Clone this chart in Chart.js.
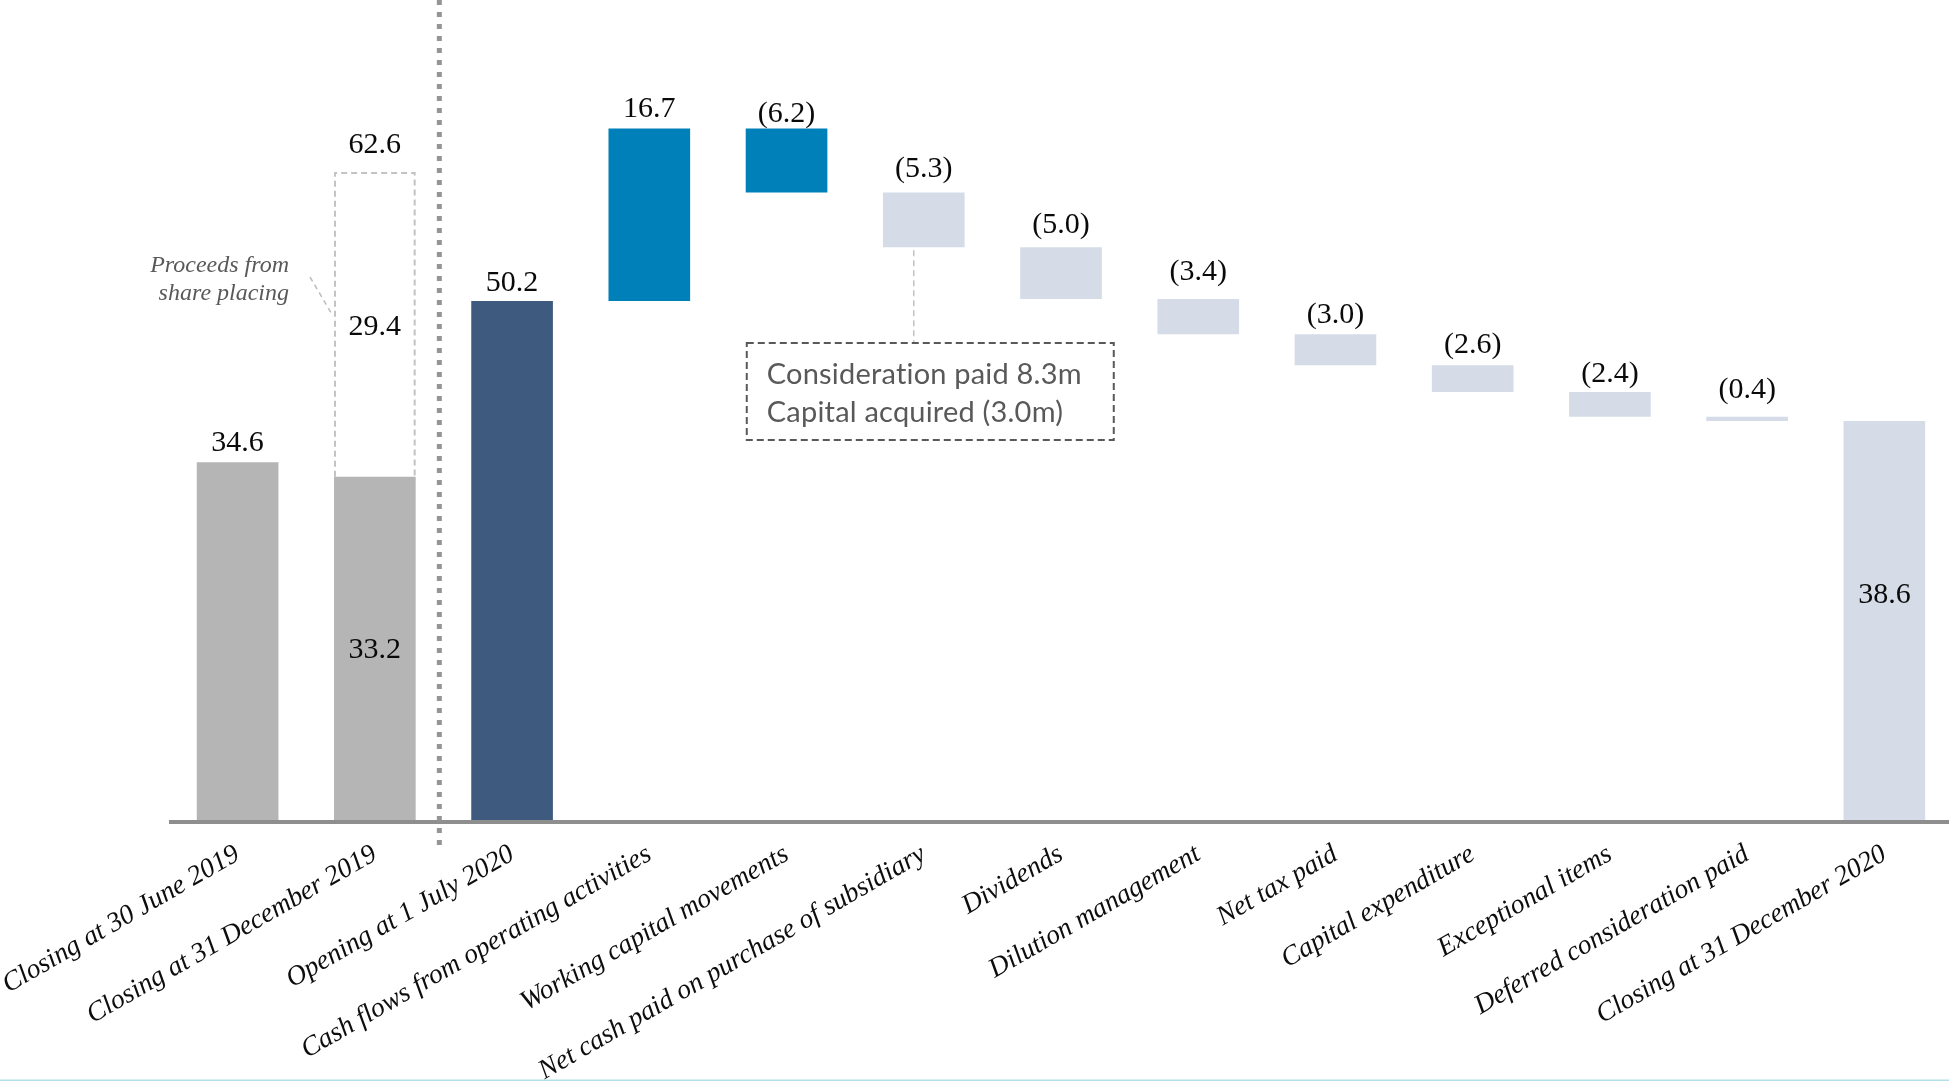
<!DOCTYPE html>
<html>
<head>
<meta charset="utf-8">
<script src="https://cdn.jsdelivr.net/npm/chart.js@4/dist/chart.umd.min.js"></script>
<style>
  html, body { margin: 0; padding: 0; background: #ffffff; overflow: hidden; width: 1949px; height: 1081px; }
  canvas { display: block; }
</style>
</head>
<body>
<canvas id="bridge" width="1953" height="1081"></canvas>
<script>
// Cash bridge, £m
const categories = [
  'Closing at 30 June 2019',
  'Closing at 31 December 2019',
  'Opening at 1 July 2020',
  'Cash flows from operating activities',
  'Working capital movements',
  'Net cash paid on purchase of subsidiary',
  'Dividends',
  'Dilution management',
  'Net tax paid',
  'Capital expenditure',
  'Exceptional items',
  'Deferred consideration paid',
  'Closing at 31 December 2020'
];

// Balances shown as full bars from zero
const balances = [34.6, 33.2, 50.2, null, null, null, null, null, null, null, null, null, 38.6];

// Movements that float on the running balance
const movements = [null, null, null, 16.7, -6.2, -5.3, -5.0, -3.4, -3.0, -2.6, -2.4, -0.4, null];

// Share placing proceeds stacked on the December 2019 balance
const placingProceeds = [null, 29.4, null, null, null, null, null, null, null, null, null, null, null];

// Bar fills
const barColors = ['#b5b5b5', '#b5b5b5', '#3e5a7f', '#0080b8', '#0080b8',
  '#d5dce8', '#d5dce8', '#d5dce8', '#d5dce8', '#d5dce8', '#d5dce8', '#d5dce8', '#d5dce8'];

// Gap (px) between the top of each mark and its value label
const labelGap = [11, 20, 10, 11, 6, 16, 14, 19, 11, 12, 10, 19, null];

// Floating ranges for the waterfall
let running = 0;
const ranges = categories.map((_, i) => {
  if (balances[i] !== null) { running = balances[i]; return [0, balances[i]]; }
  const start = running;
  running = Math.round((running + movements[i]) * 10) / 10;
  return [start, running];
});
const placingRanges = placingProceeds.map((p, i) =>
  p === null ? null : [balances[i], Math.round((balances[i] + p) * 10) / 10]);

const fmt = v => v < 0 ? '(' + Math.abs(v).toFixed(1) + ')' : v.toFixed(1);

const SERIF = '"Liberation Serif", "Times New Roman", serif';

const overlay = {
  id: 'overlay',
  afterDatasetsDraw(chart) {
    const { ctx, chartArea, scales: { x, y } } = chart;
    const bars = chart.getDatasetMeta(0).data;
    const placing = chart.getDatasetMeta(1).data;
    const W = chart.width;
    ctx.save();

    // base axis line
    const y0 = y.getPixelForValue(0);
    ctx.strokeStyle = '#8e8e8e';
    ctx.lineWidth = 4;
    ctx.setLineDash([]);
    ctx.beginPath();
    ctx.moveTo(chartArea.left, y0 + 2);
    ctx.lineTo(W, y0 + 2);
    ctx.stroke();

    // dashed outline of the share placing segment
    placing.forEach((el, i) => {
      if (!el || placingRanges[i] === null) return;
      const { x: cx, y: top, base, width } = el.getProps(['x', 'y', 'base', 'width'], true);
      const l = cx - width / 2 + 1, r = cx + width / 2 - 1;
      ctx.strokeStyle = '#c3c3c3';
      ctx.lineWidth = 2;
      ctx.setLineDash([6, 4]);
      ctx.beginPath();
      ctx.moveTo(l, base);
      ctx.lineTo(l, top);
      ctx.lineTo(r, top);
      ctx.lineTo(r, base);
      ctx.stroke();
    });

    // dotted divider between the half-year and the full-year bridge
    const dx = x.getPixelForValue(1.47);
    ctx.strokeStyle = '#959595';
    ctx.lineWidth = 5;
    ctx.setLineDash([5, 7]);
    ctx.beginPath();
    ctx.moveTo(dx, 0);
    ctx.lineTo(dx, y0 + 31);
    ctx.stroke();

    // value labels
    ctx.setLineDash([]);
    ctx.fillStyle = '#0a0a0a';
    ctx.font = '30px ' + SERIF;
    ctx.textAlign = 'center';
    bars.forEach((el, i) => {
      const { x: cx, y: yy, base } = el.getProps(['x', 'y', 'base'], true);
      const top = Math.min(yy, base), bottom = Math.max(yy, base);
      if (placingRanges[i] !== null) {
        const pe = placing[i].getProps(['y', 'base'], true);
        ctx.textBaseline = 'alphabetic';
        ctx.fillText(fmt(placingRanges[i][1]), cx, pe.y - labelGap[i]);
        ctx.textBaseline = 'middle';
        ctx.fillText(fmt(placingProceeds[i]), cx, (pe.y + pe.base) / 2 + 2);
        ctx.fillText(fmt(balances[i]), cx, (top + bottom) / 2 + 2);
      } else if (labelGap[i] === null) {
        ctx.textBaseline = 'middle';
        ctx.fillText(fmt(balances[i]), cx, (top + bottom) / 2 - 25);
      } else {
        const v = balances[i] !== null ? balances[i] : movements[i];
        ctx.textBaseline = 'alphabetic';
        ctx.fillText(fmt(v), cx, top - labelGap[i]);
      }
    });

    // note on the share placing
    const b1 = bars[1].getProps(['x', 'width'], true);
    const b1Left = b1.x - b1.width / 2;
    ctx.fillStyle = '#595959';
    ctx.font = 'italic 24px ' + SERIF;
    ctx.textAlign = 'right';
    ctx.textBaseline = 'alphabetic';
    ctx.fillText('Proceeds from', b1Left - 45, 272);
    ctx.fillText('share placing', b1Left - 45, 300);
    ctx.strokeStyle = '#bdbdbd';
    ctx.lineWidth = 1.5;
    ctx.setLineDash([5, 4]);
    ctx.beginPath();
    ctx.moveTo(b1Left - 24, 277);
    ctx.lineTo(b1Left - 1, 316);
    ctx.stroke();

    // note on the subsidiary purchase
    const b5 = bars[5].getProps(['x', 'y', 'base'], true);
    const boxL = b5.x - 177, boxR = b5.x + 190, boxT = 343, boxB = 440;
    ctx.strokeStyle = '#c3c3c3';
    ctx.lineWidth = 1.5;
    ctx.setLineDash([6, 4]);
    ctx.beginPath();
    ctx.moveTo(b5.x - 10, Math.max(b5.y, b5.base) + 3);
    ctx.lineTo(b5.x - 10, boxT);
    ctx.stroke();
    ctx.strokeStyle = '#595959';
    ctx.lineWidth = 2;
    ctx.setLineDash([7, 4]);
    ctx.strokeRect(boxL, boxT, boxR - boxL, boxB - boxT);
    ctx.setLineDash([]);
    ctx.fillStyle = '#595959';
    ctx.font = '29px Lato, "Open Sans", sans-serif';
    ctx.letterSpacing = '0.2px';
    ctx.textAlign = 'left';
    ctx.fillText('Consideration paid 8.3m', boxL + 20, 384);
    ctx.fillText('Capital acquired (3.0m)', boxL + 20, 422);
    ctx.letterSpacing = '0px';

    // thin rule along the bottom edge
    ctx.strokeStyle = '#b3dfe9';
    ctx.lineWidth = 1.5;
    ctx.beginPath();
    ctx.moveTo(0, chart.height - 0.75);
    ctx.lineTo(W, chart.height - 0.75);
    ctx.stroke();

    ctx.restore();
  }
};

new Chart(document.getElementById('bridge'), {
  type: 'bar',
  data: {
    labels: categories,
    datasets: [
      {
        data: ranges,
        backgroundColor: barColors,
        borderWidth: 0,
        grouped: false,
        categoryPercentage: 1,
        barPercentage: 0.595
      },
      {
        data: placingRanges,
        backgroundColor: 'rgba(255,255,255,0)',
        borderWidth: 0,
        grouped: false,
        categoryPercentage: 1,
        barPercentage: 0.595
      }
    ]
  },
  options: {
    responsive: false,
    animation: false,
    devicePixelRatio: 1,
    layout: { padding: { left: 169, right: 0, top: 0, bottom: 0 } },
    plugins: { legend: { display: false }, tooltip: { enabled: false } },
    scales: {
      x: {
        offset: true,
        grid: { display: false, drawTicks: false },
        border: { display: false },
        ticks: {
          autoSkip: false,
          minRotation: 30,
          maxRotation: 30,
          padding: 18,
          color: '#0d0d0d',
          font: { family: SERIF, style: 'italic', size: 27.5 }
        },
        afterFit(scale) {
          scale.height = 261;
          scale.paddingLeft = 0;
          scale.paddingRight = 0;
        }
      },
      y: { display: false, min: 0, max: 79.33 }
    }
  },
  plugins: [overlay]
});
</script>
</body>
</html>
